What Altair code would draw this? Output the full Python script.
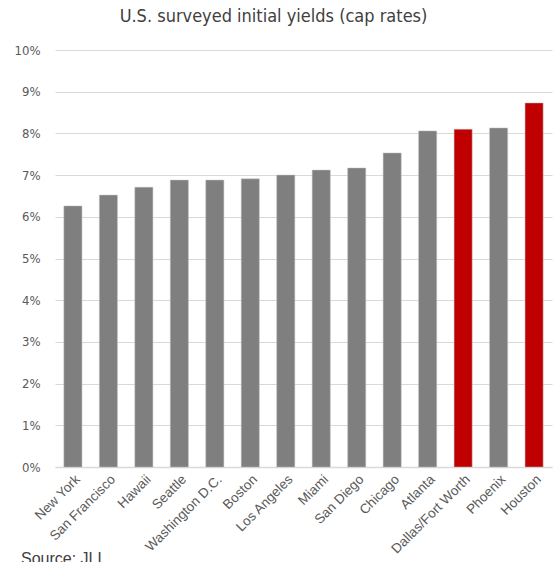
import altair as alt
import pandas as pd

cities = ["New York", "San Francisco", "Hawaii", "Seattle", "Washington D.C.", "Boston",
          "Los Angeles", "Miami", "San Diego", "Chicago", "Atlanta", "Dallas/Fort Worth",
          "Phoenix", "Houston"]
yields = [0.0626, 0.0652, 0.0671, 0.0688, 0.0688, 0.0691, 0.0700, 0.0712, 0.0717,
          0.0753, 0.0806, 0.0810, 0.0813, 0.0873]
highlight = ["no"] * 11 + ["yes", "no", "yes"]

df = pd.DataFrame({"city": cities, "y": yields, "hl": highlight})

W, H = 497, 417
NARROW = "'Liberation Sans Narrow', 'DejaVu Sans Condensed', 'Liberation Sans', sans-serif"

bars = alt.Chart(df).mark_bar(stroke="#bfbfbf", strokeWidth=0.5).encode(
    x=alt.X("city:N", sort=cities,
            scale=alt.Scale(paddingInner=0.49, paddingOuter=0.25),
            axis=alt.Axis(title=None, labelAngle=-45, labelFontSize=13.5,
                          labelColor="#595959", labelFont="Liberation Sans",
                          ticks=False, domain=True, domainColor="#d9d9d9",
                          domainWidth=1.5, labelPadding=5)),
    y=alt.Y("y:Q", scale=alt.Scale(domain=[0, 0.10]),
            axis=alt.Axis(title=None, format=".0%", values=[i / 100 for i in range(11)],
                          labelFontSize=13, labelColor="#595959",
                          labelFont=NARROW, ticks=False, domain=False,
                          gridColor="#d9d9d9", gridWidth=1, labelPadding=15)),
    color=alt.Color("hl:N", scale=alt.Scale(domain=["no", "yes"], range=["#7f7f7f", "#c00000"]),
                    legend=None),
)

source = alt.Chart(pd.DataFrame({"t": ["Source:  JLL"]})).mark_text(
    align="left", baseline="top", fontSize=16, color="#404040", font="Liberation Sans"
).encode(x=alt.value(-34), y=alt.value(501), text="t:N")

chart = alt.layer(bars, source).properties(
    width=W, height=H,
    title=alt.Title("U.S. surveyed initial yields (cap rates)", fontSize=18,
                    font=NARROW, fontWeight="normal", color="#404040",
                    anchor="middle", offset=18, dx=-30),
    padding={"left": 55, "top": 50, "right": 1, "bottom": 95},
    autosize=alt.AutoSizeParams(type="none"),
).configure_view(stroke=None)

chart.save("out.html", embed_options={"renderer": "svg", "actions": False})
